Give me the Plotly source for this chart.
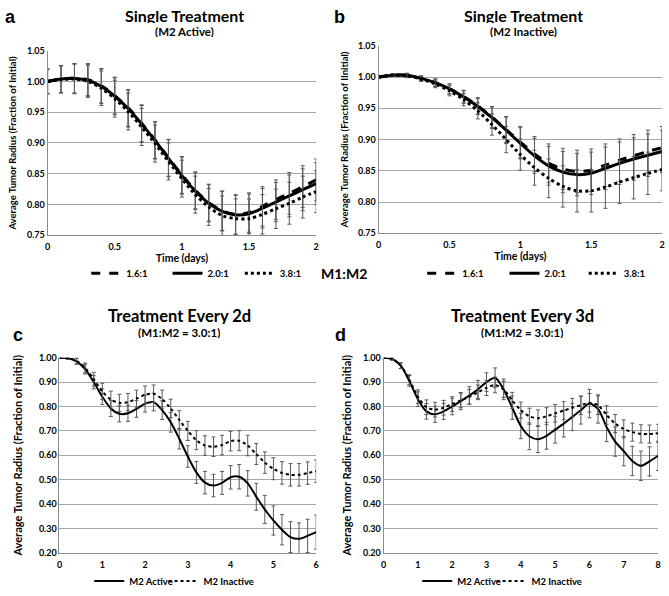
import plotly.graph_objects as go

# ---------------- data ----------------
t_single = [0.0, 0.1, 0.2, 0.3, 0.4, 0.5, 0.6, 0.7, 0.8, 0.9, 1.0,
            1.1, 1.2, 1.3, 1.4, 1.5, 1.6, 1.7, 1.8, 1.9, 2.0]

a_16 = [1.000, 1.004, 1.005, 1.003, 0.993, 0.977, 0.957, 0.932, 0.905, 0.876, 0.848,
        0.823, 0.803, 0.790, 0.784, 0.787, 0.797, 0.808, 0.818, 0.829, 0.840]
a_20 = [1.000, 1.004, 1.005, 1.002, 0.992, 0.976, 0.956, 0.931, 0.904, 0.875, 0.847,
        0.822, 0.802, 0.789, 0.783, 0.785, 0.794, 0.804, 0.814, 0.824, 0.834]
a_38 = [1.000, 1.003, 1.004, 1.000, 0.989, 0.972, 0.951, 0.926, 0.899, 0.870, 0.842,
        0.816, 0.796, 0.782, 0.777, 0.777, 0.784, 0.793, 0.802, 0.812, 0.821]
a_err = [0.020, 0.022, 0.024, 0.026, 0.028, 0.030, 0.030, 0.030, 0.030, 0.030, 0.030,
         0.030, 0.030, 0.032, 0.032, 0.032, 0.032, 0.032, 0.034, 0.034, 0.034]

b_16 = [1.000, 1.003, 1.003, 0.998, 0.991, 0.981, 0.969, 0.954, 0.936, 0.916, 0.896,
        0.877, 0.862, 0.853, 0.849, 0.851, 0.859, 0.867, 0.874, 0.881, 0.887]
b_20 = [1.000, 1.003, 1.003, 0.998, 0.991, 0.981, 0.968, 0.953, 0.935, 0.915, 0.894,
        0.874, 0.858, 0.848, 0.844, 0.846, 0.854, 0.862, 0.869, 0.875, 0.881]
b_38 = [1.000, 1.003, 1.002, 0.997, 0.989, 0.978, 0.964, 0.946, 0.924, 0.900, 0.876,
        0.855, 0.838, 0.825, 0.818, 0.818, 0.824, 0.832, 0.839, 0.846, 0.852]
b_err = [0.001, 0.002, 0.003, 0.004, 0.006, 0.008, 0.010, 0.013, 0.017, 0.021, 0.025,
         0.028, 0.031, 0.033, 0.034, 0.034, 0.034, 0.034, 0.034, 0.034, 0.034]

t_c = [0.0, 0.2, 0.4, 0.6, 0.8, 1.0, 1.2, 1.4, 1.6, 1.8, 2.0, 2.2, 2.4, 2.6, 2.8, 3.0,
       3.2, 3.4, 3.6, 3.8, 4.0, 4.2, 4.4, 4.6, 4.8, 5.0, 5.2, 5.4, 5.6, 5.8, 6.0]
c_act = [1.000, 0.998, 0.985, 0.953, 0.900, 0.840, 0.792, 0.770, 0.772, 0.790, 0.812,
         0.818, 0.785, 0.735, 0.668, 0.595, 0.530, 0.488, 0.476, 0.487, 0.510,
         0.512, 0.485, 0.430, 0.378, 0.333, 0.295, 0.265, 0.258, 0.270, 0.285]
c_act_err = [0.000, 0.005, 0.012, 0.020, 0.028, 0.032, 0.033, 0.033, 0.033, 0.034, 0.035,
             0.036, 0.038, 0.040, 0.042, 0.044, 0.045, 0.046, 0.046, 0.047, 0.048,
             0.050, 0.052, 0.055, 0.058, 0.060, 0.062, 0.063, 0.065, 0.068, 0.070]
c_inact = [1.000, 0.998, 0.987, 0.958, 0.912, 0.862, 0.828, 0.815, 0.818, 0.832, 0.848,
           0.852, 0.830, 0.792, 0.745, 0.700, 0.662, 0.640, 0.635, 0.642, 0.658,
           0.660, 0.640, 0.605, 0.570, 0.545, 0.528, 0.520, 0.520, 0.527, 0.535]
c_inact_err = [0.000, 0.005, 0.012, 0.020, 0.028, 0.033, 0.035, 0.035, 0.035, 0.035, 0.036,
               0.036, 0.037, 0.038, 0.038, 0.039, 0.039, 0.040, 0.040, 0.040, 0.040,
               0.041, 0.042, 0.043, 0.044, 0.045, 0.046, 0.046, 0.046, 0.046, 0.046]

t_d = [0.0, 0.25, 0.5, 0.75, 1.0, 1.25, 1.5, 1.75, 2.0, 2.25, 2.5, 2.75, 3.0, 3.25, 3.5,
       3.75, 4.0, 4.25, 4.5, 4.75, 5.0, 5.25, 5.5, 5.75, 6.0, 6.25, 6.5, 6.75, 7.0,
       7.25, 7.5, 7.75, 8.0]
d_act = [1.000, 0.995, 0.967, 0.905, 0.830, 0.780, 0.768, 0.780, 0.800, 0.822, 0.845,
         0.870, 0.900, 0.918, 0.870, 0.795, 0.720, 0.678, 0.666, 0.680, 0.705, 0.730,
         0.757, 0.785, 0.812, 0.790, 0.716, 0.656, 0.617, 0.577, 0.557, 0.575, 0.598]
d_act_err = [0.000, 0.005, 0.012, 0.022, 0.030, 0.032, 0.033, 0.033, 0.034, 0.035, 0.036,
             0.037, 0.038, 0.040, 0.042, 0.048, 0.052, 0.055, 0.055, 0.055, 0.055, 0.055,
             0.056, 0.057, 0.058, 0.058, 0.060, 0.060, 0.060, 0.060, 0.060, 0.060, 0.060]
d_inact = [1.000, 0.995, 0.968, 0.910, 0.840, 0.797, 0.787, 0.795, 0.810, 0.825, 0.840,
           0.858, 0.876, 0.888, 0.870, 0.825, 0.785, 0.760, 0.752, 0.760, 0.772, 0.783,
           0.795, 0.805, 0.815, 0.805, 0.765, 0.730, 0.708, 0.695, 0.688, 0.687, 0.690]
d_inact_err = [0.000, 0.005, 0.012, 0.020, 0.028, 0.030, 0.030, 0.030, 0.030, 0.030, 0.030,
               0.030, 0.031, 0.032, 0.033, 0.033, 0.033, 0.033, 0.034, 0.035, 0.036, 0.037,
               0.038, 0.038, 0.038, 0.038, 0.038, 0.037, 0.037, 0.037, 0.037, 0.037, 0.037]

ratio_labels = ["1.6:1", "2.0:1", "3.8:1"]
m2_labels = ["M2 Active", "M2 Inactive"]

# ---------------- styling ----------------
W, H = 669, 596
FONT = "Lato"
ERR_COLOR = "#5a5a5a"
GRID = "#a6a6a6"


def px_x(p):
    return p / W


def px_y(p):
    return 1 - p / H


fig = go.Figure()
legend_pos = {}   # legend id -> (legend left px, y px)


def add_series(x, y, err, name, dash, width, xa, ya, legend, text_x, text_y, off):
    fig.add_trace(go.Scatter(
        x=x, y=y, name=name, mode="lines",
        line=dict(color="black", width=width, dash=dash, shape="spline", smoothing=0.8),
        error_y=dict(type="data", array=err, visible=True, color=ERR_COLOR,
                     thickness=1, width=2),
        xaxis=xa, yaxis=ya, legend=legend, showlegend=True,
    ))
    legend_pos[legend] = (text_x - off, text_y)


dashes = ["dash", "solid", "dot"]
a_tx = [106, 188, 261]
b_tx = [445, 528, 608]
for i, (ys, lab, ds) in enumerate(zip([a_16, a_20, a_38], ratio_labels, dashes)):
    lid = "legend" if i == 0 else f"legend{i + 1}"
    add_series(t_single, ys, a_err, lab, ds, 3, "x", "y", lid, a_tx[i], 275, 22)
for i, (ys, lab, ds) in enumerate(zip([b_16, b_20, b_38], ratio_labels, dashes)):
    add_series(t_single, ys, b_err, lab, ds, 3, "x2", "y2", f"legend{i + 4}", b_tx[i], 275, 22)
add_series(t_c, c_act, c_act_err, m2_labels[0], "solid", 2, "x3", "y3", "legend7", 128, 592, 41)
add_series(t_c, c_inact, c_inact_err, m2_labels[1], "dot", 2, "x3", "y3", "legend8", 203, 592, 41)
add_series(t_d, d_act, d_act_err, m2_labels[0], "solid", 2, "x4", "y4", "legend9", 459, 592, 41)
add_series(t_d, d_inact, d_inact_err, m2_labels[1], "dot", 2, "x4", "y4", "legend10", 534, 592, 41)

tickfont = dict(family=FONT, size=9, color="black", weight="bold")


def xaxis(dom, rng, dtick, anchor, title=None):
    d = dict(domain=dom, range=rng, dtick=dtick, tick0=0, anchor=anchor,
             showgrid=False, zeroline=False, showline=True, linecolor="#8c8c8c",
             linewidth=1, ticks="", tickfont=tickfont, fixedrange=True,
             ticklabeloverflow="allow", ticklabelstandoff=3)
    if title:
        d["title"] = dict(text=title, font=dict(family=FONT, size=10.5, color="black",
                                                 weight="bold"), standoff=2)
    return d


def yaxis(dom, rng, dtick, anchor, title, tsize, standoff):
    return dict(domain=dom, range=rng, dtick=dtick, tick0=0, anchor=anchor,
                showgrid=True, gridcolor=GRID, gridwidth=1, zeroline=False,
                showline=True, linecolor="#8c8c8c", linewidth=1, ticks="",
                tickformat=".2f", tickfont=tickfont, fixedrange=True,
                title=dict(text=title, font=dict(family=FONT, size=tsize, color="black",
                                                 weight="bold"), standoff=standoff))


ytitle = "Average Tumor Radius (Fraction of Initial)"
ytitle_b = "Average Tumor Radius (Fraction of IInitial)"

fig.update_layout(
    width=W, height=H, margin=dict(l=0, r=0, t=0, b=0),
    paper_bgcolor="white", plot_bgcolor="white",
    font=dict(family=FONT, color="black"),
    xaxis=xaxis([px_x(45), px_x(316)], [0, 2], 0.5, "y", title="Time (days)"),
    yaxis=yaxis([px_y(236), px_y(46)], [0.75, 1.05], 0.05, "x", ytitle, 9.5, 8),
    xaxis2=xaxis([px_x(379), px_x(665)], [0, 2], 0.5, "y2", title="Time (days)"),
    yaxis2=yaxis([px_y(234), px_y(41)], [0.75, 1.05], 0.05, "x2", ytitle_b, 9.5, 7),
    xaxis3=xaxis([px_x(57), px_x(316)], [0, 6], 1, "y3"),
    yaxis3=yaxis([px_y(563), px_y(362)], [0.2, 1.0], 0.1, "x3", ytitle, 11, 14),
    xaxis4=xaxis([px_x(384), px_x(661)], [0, 8], 1, "y4"),
    yaxis4=yaxis([px_y(563), px_y(362)], [0.2, 1.0], 0.1, "x4", ytitle, 11, 9),
)

legfont = dict(family=FONT, size=9.5, color="black", weight="bold")
legends = {}
for lid, (lx, ly) in legend_pos.items():
    legends[lid] = dict(x=px_x(lx), y=px_y(ly), xanchor="left", yanchor="middle",
                        orientation="h", font=legfont, bgcolor="rgba(0,0,0,0)",
                        itemwidth=30, itemclick=False, itemdoubleclick=False)
fig.update_layout(**legends)

ann = []


def text(x, y, s, size, weight="bold", fam=FONT):
    ann.append(dict(x=px_x(x), y=px_y(y), xref="paper", yref="paper", text=s,
                    showarrow=False, xanchor="center", yanchor="middle",
                    height=round(size * 1.0), borderpad=0,
                    font=dict(family=fam, size=size, color="black", weight=weight)))


text(183, 9, "Single Treatment", 16)
text(183, 26, "(M2 Active)", 11.5)
text(525, 9, "Single Treatment", 16)
text(525, 26, "(M2 Inactive)", 11.5)
text(178, 319, "Treatment Every 2d", 16.5)
text(178, 336, "(M1:M2 = 3.0:1)", 11.5)
text(524, 319, "Treatment Every 3d", 16.5)
text(524, 336, "(M1:M2 = 3.0:1)", 11.5)
text(344, 275, "M1:M2", 14)
text(8, 11, "a", 18, fam="Liberation Sans")
text(340, 11, "b", 18, fam="Liberation Sans")
text(15, 339, "c", 18, fam="Liberation Sans")
text(341, 339, "d", 18, fam="Liberation Sans")
fig.update_layout(annotations=ann)

# the page is exactly the figure: drop the browser's default body margin
fig.write_html("out.html",
               config={"displayModeBar": False},
               post_script="document.body.style.margin='0px';"
                           "document.body.style.overflow='hidden';")
